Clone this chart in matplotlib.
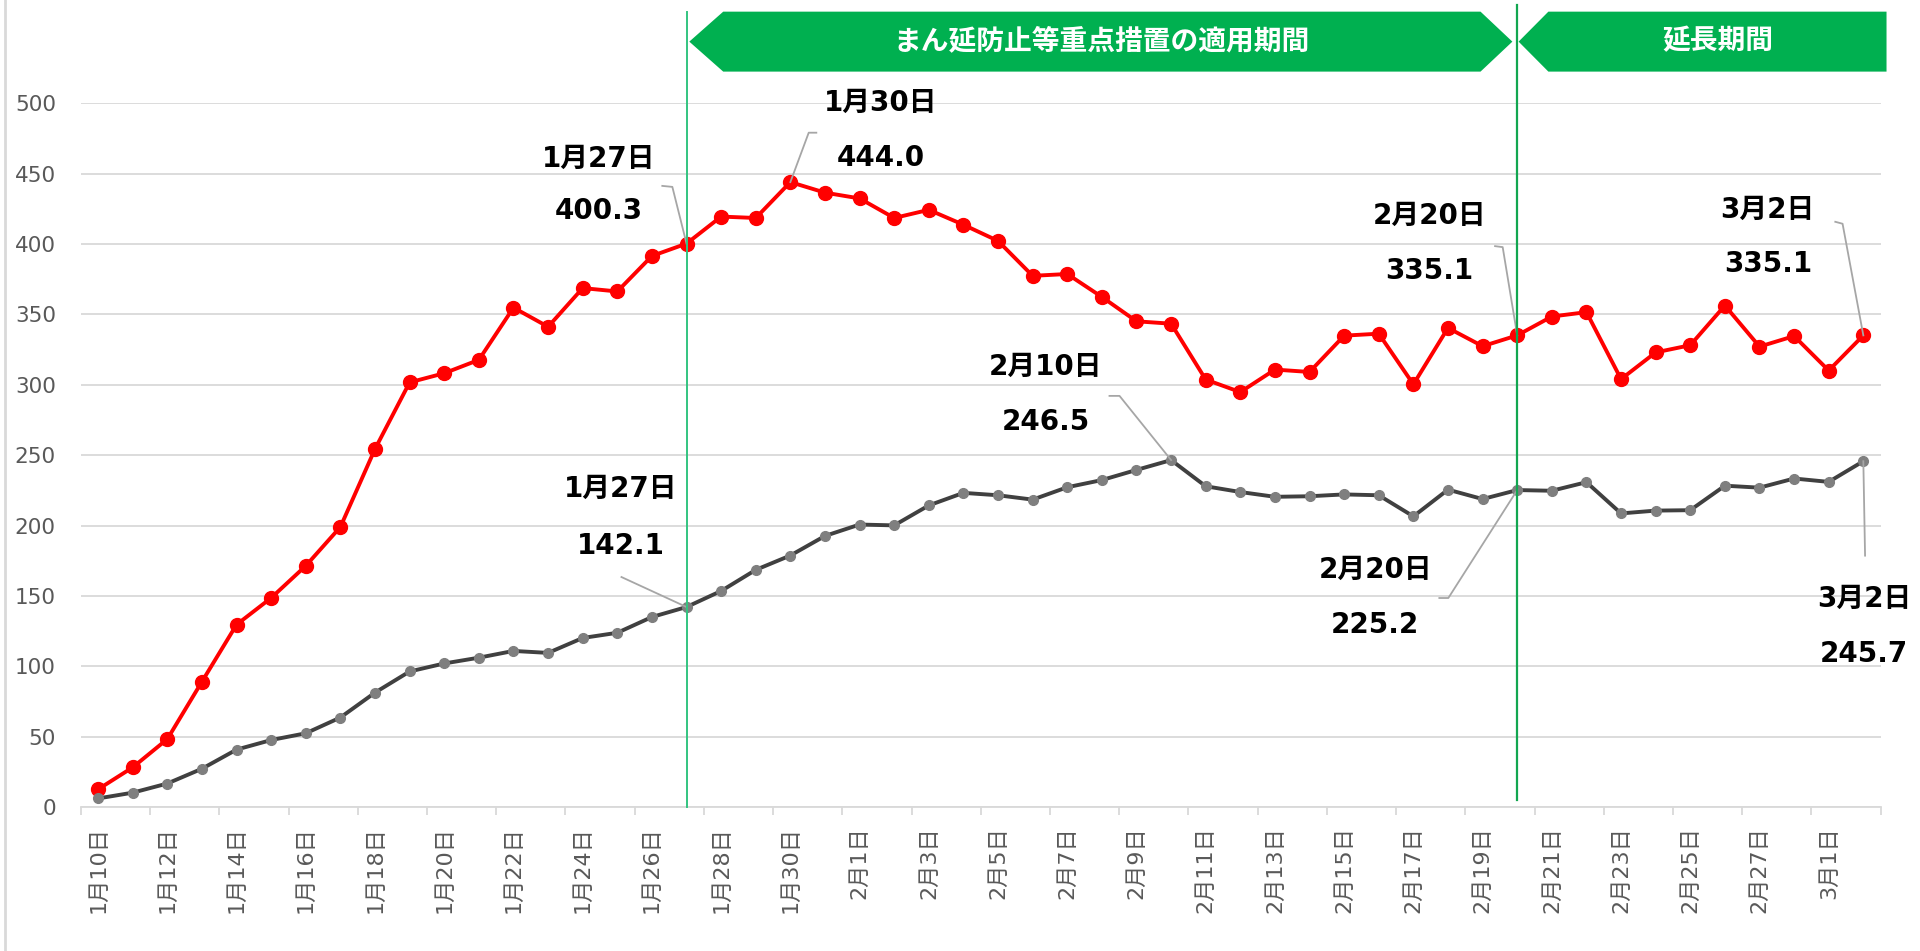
import numpy as np
import matplotlib
matplotlib.use("Agg")
import matplotlib.pyplot as plt
from matplotlib.patches import Polygon
from matplotlib.lines import Line2D

plt.rcParams['font.family'] = ['DejaVu Sans', 'Noto Sans CJK JP']

# ─── Data ───────────────────────────────────────────────
dates = (
    [f"1月{d}日" for d in range(10, 32)]
    + [f"2月{d}日" for d in range(1, 29)]
    + ["3月1日", "3月2日"]
)

red_vals = [12.6, 28.2, 48.3, 89.1, 129.6, 148.6, 171.4, 199.0, 254.4, 301.7,
            308.2, 317.7, 354.8, 341.2, 368.7, 366.3, 391.5, 400.3, 419.5, 418.5,
            444.0, 436.5, 432.4, 418.5, 424.3, 413.7, 402.2, 377.4, 378.7, 362.4,
            345.1, 343.4, 303.7, 294.8, 310.8, 309.1, 334.9, 336.3, 300.3, 340.4,
            327.4, 335.1, 348.5, 351.6, 304.0, 323.0, 328.1, 356.3, 327.1, 334.6,
            310.1, 335.1]

gray_vals = [6.1, 10.2, 16.7, 27.2, 40.8, 47.6, 52.4, 63.6, 81.3, 96.3,
             102.0, 106.1, 110.9, 109.5, 120.1, 123.8, 135.0, 142.1, 153.5, 168.5,
             178.7, 192.6, 200.7, 200.1, 214.3, 223.2, 221.5, 218.4, 227.2, 232.3,
             239.5, 246.5, 227.9, 223.8, 220.4, 220.8, 222.1, 221.5, 206.5, 225.5,
             218.8, 225.2, 224.7, 230.8, 208.6, 210.6, 210.9, 228.3, 226.9, 233.4,
             231.0, 245.7]

period_start = dates.index("1月27日")
extend_start = dates.index("2月20日")
period_label = "まん延防止等重点措置の適用期間"
extend_label = "延長期間"

# callouts: (series, date), label position (x, y_date, y_value) in data units, leader knee points
callouts = [
    ("red", "1月27日", (14.46, 460.7, 423.6), [(16.30, 441.3), (16.59, 440.6)]),
    ("red", "1月30日", (22.6, 500.0, 461.1), [(20.75, 479.1), (20.53, 479.1)]),
    ("gray", "1月27日", (15.10, 226.3, 185.6), [(15.12, 163.4)]),
    ("gray", "2月10日", (27.37, 312.6, 273.7), [(29.22, 292.1), (29.51, 292.1)]),
    ("red", "2月20日", (38.46, 419.7, 380.5), [(40.36, 398.5), (40.58, 397.8)]),
    ("gray", "2月20日", (36.90, 168.3, 129.1), [(38.75, 148.5), (39.01, 148.5)]),
    ("red", "3月2日", (48.24, 424.3, 385.8), [(50.19, 415.8), (50.40, 414.4)]),
    ("gray", "3月2日", (51.02, 147.8, 108.9), [(51.05, 178.6)]),
]

# ─── Figure ─────────────────────────────────────────────
fig = plt.figure(figsize=(19.2, 9.51), dpi=100)
ax = fig.add_axes([0.0421, 0.1514, 0.9374, 0.7400])

x = np.arange(len(dates))
ax.plot(x, red_vals, color="#FF0000", lw=2.8, marker="o", ms=10, zorder=3)
ax.plot(x, gray_vals, color="#404040", lw=2.8, marker="o", ms=7,
        mfc="#7F7F7F", mec="#7F7F7F", zorder=4)

ax.set_xlim(-0.5, len(dates) - 0.5)
ax.set_ylim(0, 500)
ax.set_yticks(range(0, 501, 50))
ax.yaxis.grid(True, color="#D9D9D9", lw=1.3)
ax.set_axisbelow(True)
for s in ["top", "right", "left"]:
    ax.spines[s].set_visible(False)
ax.spines["bottom"].set_color("#D9D9D9")
ax.spines["bottom"].set_linewidth(1.3)

ax.set_xticks(x[::2])
ax.set_xticklabels(dates[::2], rotation=90, fontsize=16, color="#595959")
ax.set_xticks(np.arange(-0.5, len(dates), 2), minor=True)
ax.tick_params(axis="x", which="major", length=0, pad=14)
ax.tick_params(axis="x", which="minor", length=6, width=1.3, color="#D9D9D9")
ax.tick_params(axis="y", length=0, pad=18, labelsize=15.5, labelcolor="#595959")

# period lines
ax.plot([period_start, period_start], [0, 565], color="#33C480", lw=1.4,
        clip_on=False, zorder=6)
ax.plot([extend_start, extend_start], [5, 570], color="#12A650", lw=1.6,
        clip_on=False, zorder=6)

# banners
top, bot = 565.1, 522.5
mid = (top + bot) / 2
a, b, end = period_start, extend_start, len(dates) - 0.33
ax.add_patch(Polygon([(a + 0.08, mid), (a + 1.06, top), (b - 1.06, top),
                      (b - 0.14, mid), (b - 1.06, bot), (a + 1.06, bot)],
                     closed=True, facecolor="#00B050", edgecolor="none",
                     clip_on=False, zorder=5))
ax.add_patch(Polygon([(b + 0.04, mid), (b + 0.90, top), (end, top),
                      (end, bot), (b + 0.90, bot)],
                     closed=True, facecolor="#00B050", edgecolor="none",
                     clip_on=False, zorder=5))
ax.text((a + b) / 2, mid, period_label, color="white", fontsize=20,
        fontweight="bold", ha="center", va="center", zorder=7,
        family=["Noto Sans CJK JP"])
ax.text((b + 0.9 + end) / 2, mid, extend_label, color="white", fontsize=20,
        fontweight="bold", ha="center", va="center", zorder=7,
        family=["Noto Sans CJK JP"])

# callouts
for series, day, (tx, ty_date, ty_val), knees in callouts:
    i = dates.index(day)
    v = red_vals[i] if series == "red" else gray_vals[i]
    pts = knees + [(i, v)]
    ax.plot([p[0] for p in pts], [p[1] for p in pts], color="#A6A6A6",
            lw=1.3, clip_on=False, zorder=5)
    ax.text(tx, ty_date, day, fontsize=20, fontweight="bold", color="black",
            ha="center", va="center", zorder=7)
    ax.text(tx, ty_val, f"{v:.1f}", fontsize=20, fontweight="bold",
            color="black", ha="center", va="center", zorder=7)

# chart frame edge on the left
fig.add_artist(Line2D([0.0026, 0.0026], [0, 1], transform=fig.transFigure,
                      color="#D9D9D9", lw=2))

fig.savefig("out.png", dpi=100)
